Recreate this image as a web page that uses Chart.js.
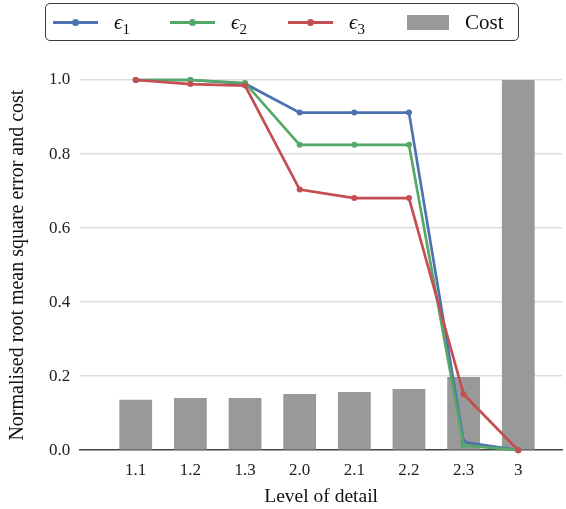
<!DOCTYPE html>
<html>
<head>
<meta charset="utf-8">
<script src="https://cdn.jsdelivr.net/npm/chart.js@4"></script>
<style>
  body { margin: 0; background: #fff; }
  #wrap { position: relative; width: 566px; height: 509px; }
  #legend {
    position: absolute; left: 45px; top: 3px; width: 474px; height: 38px;
    box-sizing: border-box; border: 1px solid #3a3a3a; border-radius: 5px;
    font-family: "Liberation Serif", "DejaVu Serif", serif; font-size: 21px; color: #111;
  }
  .item { position: absolute; top: 0; height: 36px; display: flex; align-items: center; white-space: nowrap; }
  .line { position: relative; width: 45px; height: 3px; margin-right: 16px; }
  .line span { position: absolute; left: 19px; top: -2px; width: 7px; height: 7px; border-radius: 50%; }
  .box { width: 42px; height: 15px; margin-right: 16px; background: #999999; }
  .eps { font-style: italic; }
  sub { font-size: 15px; vertical-align: -5px; line-height: 0; }
</style>
</head>
<body>
<div id="wrap">
  <canvas id="myChart"></canvas>
  <div id="legend"></div>
</div>
<script>
const levels = ['1.1', '1.2', '1.3', '2.0', '2.1', '2.2', '2.3', '3'];
const eps1 = [1.0, 1.0, 0.99, 0.912, 0.912, 0.912, 0.022, 0.0];
const eps2 = [1.0, 1.0, 0.992, 0.825, 0.825, 0.825, 0.013, 0.0];
const eps3 = [1.0, 0.989, 0.985, 0.704, 0.681, 0.681, 0.151, 0.0];
const cost = [0.136, 0.141, 0.141, 0.152, 0.157, 0.165, 0.198, 1.0];
const seriesNames = ['ϵ₁', 'ϵ₂', 'ϵ₃'];
const seriesColors = ['#4c72b0', '#55a868', '#c44e52'];

const pts = arr => arr.map((y, i) => ({x: i, y: y}));

Chart.defaults.font.family = '"Liberation Serif", "DejaVu Serif", serif';
Chart.defaults.color = '#222';

const lineSets = [eps1, eps2, eps3].map((arr, k) => ({
  type: 'line',
  label: seriesNames[k],
  data: pts(arr),
  borderColor: seriesColors[k],
  backgroundColor: seriesColors[k],
  borderWidth: 2.7,
  pointRadius: 3,
  pointBorderWidth: 0,
  tension: 0,
  clip: false,
  order: 3 - k
}));

new Chart(document.getElementById('myChart'), {
  type: 'bar',
  data: {
    datasets: [...lineSets, {
      type: 'bar',
      label: 'Cost',
      data: pts(cost),
      backgroundColor: '#999999',
      categoryPercentage: 1,
      barPercentage: 0.6,
      order: 10
    }]
  },
  options: {
    responsive: true,
    maintainAspectRatio: false,
    animation: false,
    layout: { padding: { top: 80, left: 0, right: 2, bottom: 0 } },
    plugins: { legend: { display: false }, tooltip: { enabled: false } },
    scales: {
      x: {
        type: 'linear',
        min: -1.015,
        max: 7.8,
        offset: false,
        afterBuildTicks: s => { s.ticks = levels.map((_, i) => ({value: i})); },
        ticks: { callback: v => levels[v], font: { size: 17 }, padding: 10, autoSkip: false, maxRotation: 0 },
        grid: { display: false, drawTicks: false },
        border: { display: true, color: '#444', width: 1.6 },
        title: { display: true, text: 'Level of detail', font: { size: 19.5 }, color: '#111', padding: { top: -5, bottom: 0 } }
      },
      y: {
        min: 0,
        max: 1,
        ticks: { stepSize: 0.2, callback: v => v.toFixed(1), font: { size: 17 }, padding: 10 },
        grid: { color: c => c.tick.value === 0 ? 'rgba(0,0,0,0)' : '#dddddd', lineWidth: 1.5, drawTicks: false },
        border: { display: false },
        title: { display: true, text: 'Normalised root mean square error and cost', font: { size: 20 }, color: '#111', padding: { top: 6, bottom: 9 } }
      }
    }
  }
});

// legend built from the same names and colours
const legend = document.getElementById('legend');
const itemLeft = [7, 124, 242, 361];
seriesNames.forEach((name, k) => {
  const item = document.createElement('div');
  item.className = 'item';
  item.style.left = itemLeft[k] + 'px';
  item.innerHTML = '<div class="line" style="background:' + seriesColors[k] + '"><span style="background:' +
    seriesColors[k] + '"></span></div><span><span class="eps">' + name[0] + '</span><sub>' +
    name.slice(1).normalize('NFKC') + '</sub></span>';
  legend.appendChild(item);
});
const costItem = document.createElement('div');
costItem.className = 'item';
costItem.style.left = itemLeft[3] + 'px';
costItem.innerHTML = '<div class="box"></div><span>Cost</span>';
legend.appendChild(costItem);
</script>
</body>
</html>
